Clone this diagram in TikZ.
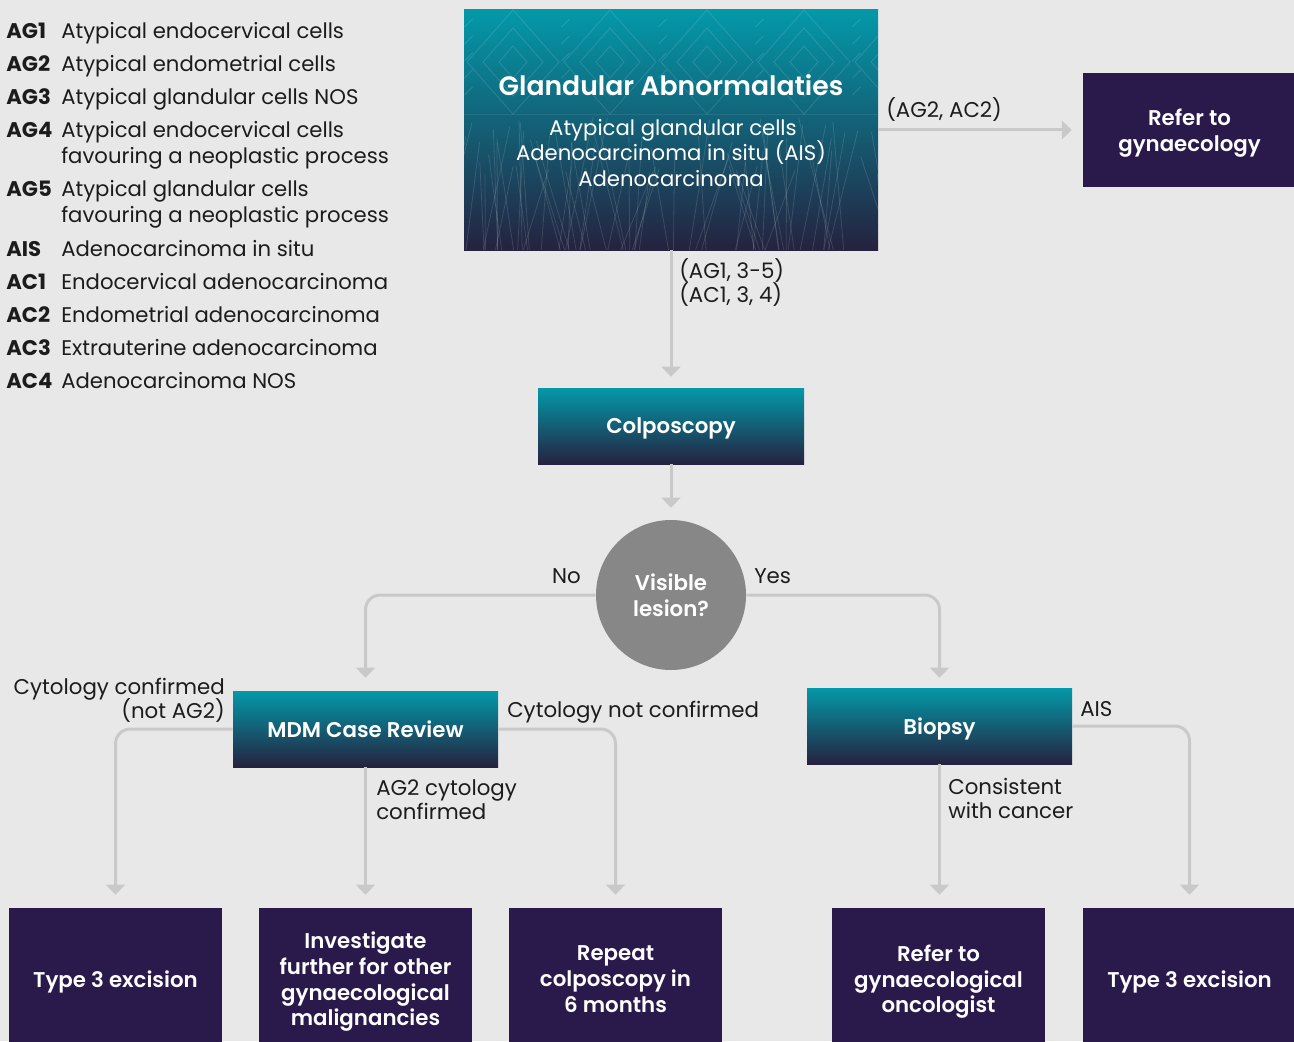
\documentclass[tikz,border=0pt]{standalone}
\usepackage{fontspec}
\setmainfont{Poppins}
\newfontfamily\semibold{Poppins SemiBold}
\usetikzlibrary{arrows.meta}

\definecolor{bgpaper}{HTML}{E8E8E8}
\definecolor{tealtop}{HTML}{0399A9}
\definecolor{tealmid}{HTML}{03617E}
\definecolor{navybot}{HTML}{25223F}
\definecolor{plum}{HTML}{2A194B}
\definecolor{connector}{HTML}{C9C9C9}
\definecolor{discgray}{HTML}{878787}
\definecolor{ink}{HTML}{1C1C1C}

\newcommand\legendfont{\fontsize{15.9}{18}\selectfont}
\newcommand\labelfont{\fontsize{16}{18}\selectfont}
\newcommand\boxfont{\fontsize{16}{19.2}\selectfont\semibold}
\newcommand\titlefont{\fontsize{20}{24}\selectfont\semibold}

\tikzset{
  sz/.style 2 args={minimum width={#1*0.75pt}, minimum height={#2*0.75pt}},
  gradbox/.style={rectangle, inner sep=0pt, top color=tealtop, middle color=tealmid,
    bottom color=navybot, text=white, font=\boxfont, align=center, text depth=0pt},
  darkbox/.style={rectangle, inner sep=0pt, fill=plum, text=white, font=\boxfont,
    align=center, text depth=0pt, sz={213}{142}},
  arr/.style={draw=connector, line width=2.25pt, rounded corners=11pt,
    -{Triangle[width=14pt,length=7.5pt]}},
  lbl/.style={inner sep=0pt, text=ink, font=\labelfont},
  legkey/.style={inner sep=0pt, text=ink, font=\legendfont\bfseries, anchor=base west},
  legtxt/.style={inner sep=0pt, text=ink, font=\legendfont, anchor=base west},
}

\begin{document}
\begin{tikzpicture}[x=0.75pt,y=-0.75pt]
  \fill[bgpaper] (0,0) rectangle (1294,1041);
  \useasboundingbox (0,0) rectangle (1294,1041);

  % ---- legend of abbreviations ----
  \node[legkey] (kAGa) at (6,39)  {AG1};
  \node[legtxt] (tAGa) at (61,39) {Atypical endocervical cells};
  \node[legkey] (kAGb) at (6,72)  {AG2};
  \node[legtxt] (tAGb) at (61,72) {Atypical endometrial cells};
  \node[legkey] (kAGc) at (6,105) {AG3};
  \node[legtxt] (tAGc) at (61,105) {Atypical glandular cells NOS};
  \node[legkey] (kAGd) at (6,138) {AG4};
  \node[legtxt] (tAGd) at (61,138) {Atypical endocervical cells};
  \node[legtxt] (tAGd2) at (61,164) {favouring a neoplastic process};
  \node[legkey] (kAGe) at (6,197) {AG5};
  \node[legtxt] (tAGe) at (61,197) {Atypical glandular cells};
  \node[legtxt] (tAGe2) at (61,223) {favouring a neoplastic process};
  \node[legkey] (kAIS) at (6,256) {AIS};
  \node[legtxt] (tAIS) at (61,256) {Adenocarcinoma in situ};
  \node[legkey] (kACa) at (6,289) {AC1};
  \node[legtxt] (tACa) at (61,289) {Endocervical adenocarcinoma};
  \node[legkey] (kACb) at (6,322) {AC2};
  \node[legtxt] (tACb) at (61,322) {Endometrial adenocarcinoma};
  \node[legkey] (kACc) at (6,355) {AC3};
  \node[legtxt] (tACc) at (61,355) {Extrauterine adenocarcinoma};
  \node[legkey] (kACd) at (6,388) {AC4};
  \node[legtxt] (tACd) at (61,388) {Adenocarcinoma NOS};

  % ---- header box with its faint line ornament ----
  \node[gradbox, sz={414}{240}] (top) at (671,130) {};
  \begin{scope}
    \clip (464,10) rectangle (878,250);
    \begin{scope}[draw=white, draw opacity=0.13, line width=0.6pt]
      \foreach \cx in {416,513,610,707,804,901} {
        \draw (\cx,10) -- (\cx+46,62) -- (\cx,114) -- (\cx-46,62) -- cycle;
        \draw (\cx,28) -- (\cx+30,62) -- (\cx,96) -- (\cx-30,62) -- cycle;
        \draw (\cx,46) -- (\cx+14,62) -- (\cx,78) -- (\cx-14,62) -- cycle;
        \foreach \k in {1,...,5}
          \draw (\cx+48.5,10+\k*17) -- (\cx+48.5+8,10+\k*17-8);
      }
      \draw[draw opacity=0.08] (464,114) -- (878,114);
      \pgfmathsetseed{7}
      \foreach \i in {0,...,70} {
        \pgfmathsetmacro\xa{464+rnd*414}
        \pgfmathsetmacro\xb{\xa+(rnd-0.5)*70}
        \pgfmathsetmacro\ya{116+rnd*60}
        \draw (\xa,\ya) -- (\xb,250);
      }
    \end{scope}
  \end{scope}
  \node[inner sep=0pt, text=white, font=\titlefont, anchor=base] (toptitle) at (671,96)
    {Glandular Abnormalaties};
  \node[inner sep=0pt, text=white, font=\legendfont, anchor=base] (topl1) at (673,136)
    {Atypical glandular cells};
  \node[inner sep=0pt, text=white, font=\legendfont, anchor=base] (topl2) at (671,161)
    {Adenocarcinoma in situ (AIS)};
  \node[inner sep=0pt, text=white, font=\legendfont, anchor=base] (topl3) at (671,187)
    {Adenocarcinoma};

  % ---- process boxes ----
  \node[rectangle, inner sep=0pt, fill=plum, text=white, font=\boxfont, align=center,
        text depth=0pt, sz={213}{114}] (refer) at (1189.5,130) {Refer to\\gynaecology};
  \node[gradbox, sz={266}{76}] (colp) at (671,426) {Colposcopy};
  \node[circle, fill=discgray, minimum size={150*0.75pt}, inner sep=0pt, text=white,
        font=\boxfont, align=center, text depth=0pt] (disc) at (671,595) {Visible\\lesion?};
  \node[gradbox, sz={265}{76}] (mdm) at (365.5,729) {MDM Case Review};
  \node[gradbox, sz={265}{76}] (biop) at (939.5,726) {Biopsy};

  \node[darkbox] (exA) at (115.5,979) {Type 3 excision};
  \node[darkbox] (inv) at (365.5,979) {Investigate\\further for other\\gynaecological\\malignancies};
  \node[darkbox] (rep) at (615.5,979) {Repeat\\colposcopy in\\6 months};
  \node[darkbox] (onc) at (938.5,979) {Refer to\\gynaecological\\oncologist};
  \node[darkbox] (exB) at (1189.5,979) {Type 3 excision};

  % ---- connectors ----
  \draw[arr, shorten >=8.25pt] (top) -- (refer);
  \draw[arr, shorten >=8.25pt] (top) -- (colp);
  \draw[arr, shorten >=9pt] (colp) -- (disc);
  \draw[arr, shorten >=9.75pt] (disc.west) -| (mdm.north);
  \draw[arr, shorten >=7.5pt] (disc.east) -| (biop.north);
  \draw[arr, shorten >=9.75pt] (mdm.west) -| (exA.north);
  \draw[arr, shorten >=9.75pt] (mdm.south) -- (mdm.south |- inv.north);
  \draw[arr, shorten >=9.75pt] (mdm.east) -| (rep.north);
  \draw[arr, shorten >=9.75pt] (biop.south) -- (biop.south |- onc.north);
  \draw[arr, shorten >=9.75pt] (biop.east) -| (exB.north);

  % ---- connector labels ----
  \node[lbl, anchor=base west] (lAGAC) at (886,118) {(AG2, AC2)};
  \node[lbl, anchor=base west] (lDown1) at (679,278) {(AG1, 3-5)};
  \node[lbl, anchor=base west] (lDown2) at (679,302) {(AC1, 3, 4)};
  \node[lbl, anchor=base east] (lNo) at (581,583) {No};
  \node[lbl, anchor=base west] (lYes) at (754,583) {Yes};
  \node[lbl, anchor=base east] (lConf1) at (225,694) {Cytology confirmed};
  \node[lbl, anchor=base east] (lConf2) at (225,718) {(not AG2)};
  \node[lbl, anchor=base west] (lNotConf) at (507,717) {Cytology not confirmed};
  \node[lbl, anchor=base west] (lAGtwo1) at (376,795) {AG2 cytology};
  \node[lbl, anchor=base west] (lAGtwo2) at (376,819) {confirmed};
  \node[lbl, anchor=base west] (lAIS) at (1080,716) {AIS};
  \node[lbl, anchor=base west] (lCons1) at (948,794) {Consistent};
  \node[lbl, anchor=base west] (lCons2) at (948,818) {with cancer};
\end{tikzpicture}
\end{document}
